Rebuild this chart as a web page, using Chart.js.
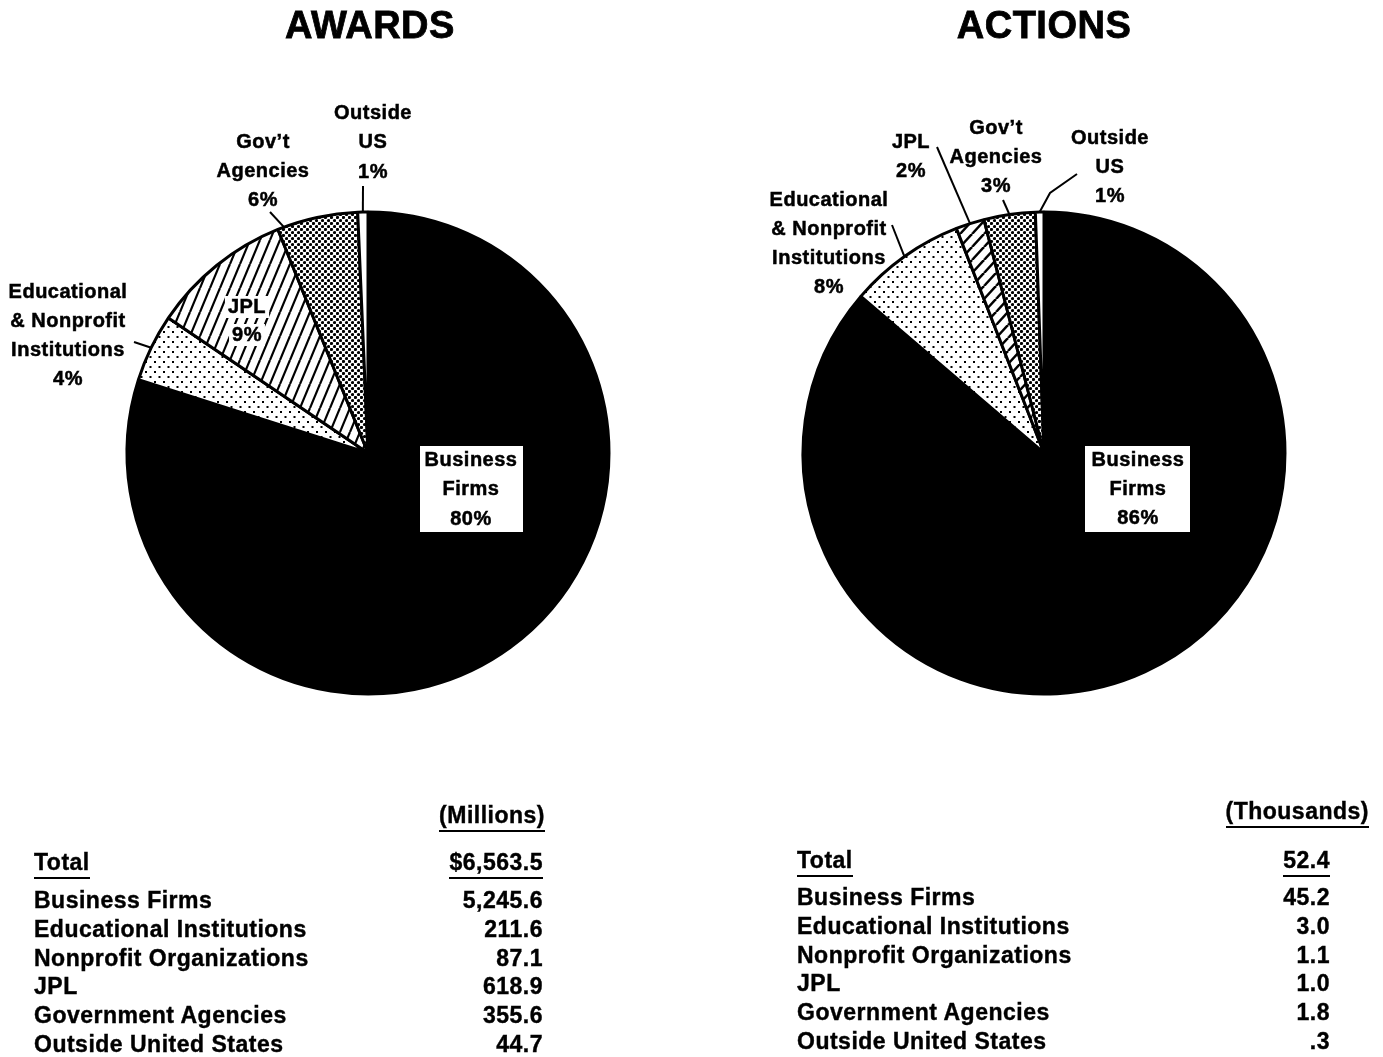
<!DOCTYPE html>
<html>
<head>
<meta charset="utf-8">
<script src="https://cdn.jsdelivr.net/npm/chart.js@4.4.1/dist/chart.umd.min.js"></script>
<style>
  html, body { margin: 0; padding: 0; background: #fff; }
  #page {
    position: relative; width: 1383px; height: 1057px; overflow: hidden;
    font-family: "Liberation Sans", Arial, Helvetica, sans-serif; font-weight: bold; color: #000;
  }
  canvas { position: absolute; left: 0; top: 0; }
  .title { position: absolute; top: 4px; font-size: 38px; line-height: 42px; transform: translateX(-50%); white-space: nowrap; letter-spacing: 0.5px; -webkit-text-stroke: 0.8px #000; }
  .cell { position: absolute; font-size: 23px; line-height: 26px; white-space: nowrap; letter-spacing: 0.5px; -webkit-text-stroke: 0.4px #000; }
  .cell span { display: inline-block; }
  .ul { border-bottom: 2.5px solid #000; padding-bottom: 2px; }
</style>
</head>
<body>
<div id="page">
  <canvas id="awardsPie" width="1383" height="1057"></canvas>
  <canvas id="actionsPie" width="1383" height="1057"></canvas>
  <div class="title" style="left:370px">AWARDS</div>
  <div class="title" style="left:1044px">ACTIONS</div>
</div>
<script>
/* ---------- data ---------- */
const categories = ["Business Firms", "Educational Institutions", "Nonprofit Organizations",
                    "JPL", "Government Agencies", "Outside United States"];
const awardsMillions = [5245.6, 211.6, 87.1, 618.9, 355.6, 44.7];
const actionsThousands = [45.2, 3.0, 1.1, 1.0, 1.8, 0.3];

// pie slices (educational + nonprofit share one slice)
const sliceLines = [["Business", "Firms"], ["Educational", "& Nonprofit", "Institutions"],
                    ["JPL"], ["Gov\u2019t", "Agencies"], ["Outside", "US"]];
const awardsPct = [80, 4, 9, 6, 1];
const actionsPct = [86, 8, 2, 3, 1];

const toSlices = v => [v[0], v[1] + v[2], v[3], v[4], v[5]];
const sum = v => v.reduce((a, b) => a + b, 0);
const fmt = v => v.toLocaleString("en-US", { minimumFractionDigits: 1, maximumFractionDigits: 1 }).replace(/^0\./, ".");

/* ---------- fill patterns ---------- */
function tile(w, h, draw) {
    const c = document.createElement("canvas");
    c.width = w; c.height = h;
    const g = c.getContext("2d");
    g.fillStyle = "#fff";
    g.fillRect(0, 0, w, h);
    g.fillStyle = "#000";
    g.strokeStyle = "#000";
    draw(g);
    return document.createElement("canvas").getContext("2d").createPattern(c, "repeat");
}

function dot(g, x, y, r) {
    g.beginPath();
    g.arc(x, y, r, 0, Math.PI * 2);
    g.fill();
}

const stipple = tile(9, 10, g => { g.fillRect(1, 1, 2, 2); g.fillRect(5.5, 6, 2, 2); });
const denseDots = tile(6, 6, g => { dot(g, 1.5, 1.5, 1.6); dot(g, 4.5, 4.5, 1.6); });

function hatch(w, h, lw) {
    return tile(w, h, g => {
        g.lineWidth = lw;
        for (let k = -1; k <= 1; k++) {
            g.beginPath();
            g.moveTo(k * w, h);
            g.lineTo((k + 1) * w, 0);
            g.stroke();
        }
    });
}

/* ---------- labels + leader lines ---------- */
const pieNotes = {
    id: "pieNotes",
    afterDatasetsDraw(chart, args, opts) {
        const ctx = chart.ctx;
        const arcs = chart.getDatasetMeta(0).data;
        ctx.save();
        ctx.font = 'bold 20px "Liberation Sans", Arial, sans-serif';
        ctx.letterSpacing = "0.5px";
        ctx.textAlign = "center";
        ctx.textBaseline = "middle";
        ctx.strokeStyle = "#000";

        opts.notes.forEach(n => {
            const lines = sliceLines[n.slice].concat(opts.pct[n.slice] + "%");
            const step = n.step || 29.3;
            if (n.box) {
                ctx.fillStyle = "#fff";
                ctx.fillRect(n.box[0], n.box[1], n.box[2], n.box[3]);
            }
            if (n.clear) {
                ctx.fillStyle = "#fff";
                lines.forEach((t, i) => {
                    const w = ctx.measureText(t).width;
                    ctx.fillRect(n.x - w / 2 - 3, n.y + i * step - 11, w + 6, 22);
                });
            }
            ctx.fillStyle = "#000";
            ctx.lineWidth = 0.5;
            lines.forEach((t, i) => {
                ctx.fillText(t, n.x, n.y + i * step);
                ctx.strokeText(t, n.x, n.y + i * step);
            });

            if (n.leader) {
                const a = arcs[n.slice];
                const ang = a.startAngle + n.leader.frac * (a.endAngle - a.startAngle);
                ctx.lineWidth = 2;
                ctx.beginPath();
                n.leader.from.forEach((p, i) => i ? ctx.lineTo(p[0], p[1]) : ctx.moveTo(p[0], p[1]));
                ctx.lineTo(a.x + Math.cos(ang) * a.outerRadius, a.y + Math.sin(ang) * a.outerRadius);
                ctx.stroke();
            }
        });
        ctx.restore();
    }
};

function makePie(id, values, pct, jplHatch, padding, notes) {
    new Chart(document.getElementById(id), {
        type: "pie",
        data: {
            labels: sliceLines.map(l => l.join(" ")),
            datasets: [{
                data: toSlices(values),
                backgroundColor: ["#000", stipple, jplHatch, denseDots, "#fff"],
                borderColor: "#000",
                borderWidth: 3
            }]
        },
        options: {
            responsive: false,
            animation: false,
            events: [],
            layout: { padding },
            plugins: {
                legend: { display: false },
                tooltip: { enabled: false },
                pieNotes: { notes, pct }
            }
        },
        plugins: [pieNotes]
    });
}

makePie("awardsPie", awardsMillions, awardsPct, hatch(10, 24, 2.2),
    { left: 125.5, top: 210.5, right: 772.5, bottom: 361.5 },
    [
        { slice: 0, x: 471, y: 460, step: 29.5, box: [420, 446, 103, 86] },
        { slice: 1, x: 68, y: 292, leader: { from: [[134, 342]], frac: 0.5 } },
        { slice: 2, x: 247, y: 307, step: 28, clear: true },
        { slice: 3, x: 263, y: 142, leader: { from: [[270, 212]], frac: 0.08 } },
        { slice: 4, x: 373, y: 113, step: 29.5, leader: { from: [[363, 186]], frac: 0.5 } }
    ]);

makePie("actionsPie", actionsThousands, actionsPct, hatch(12, 13, 2.5),
    { left: 801.5, top: 210.5, right: 96.5, bottom: 361.5 },
    [
        { slice: 0, x: 1138, y: 460, step: 29, box: [1085, 446, 105, 86] },
        { slice: 1, x: 829, y: 200, leader: { from: [[892, 225]], frac: 0.5 } },
        { slice: 2, x: 911, y: 142, leader: { from: [[937, 147]], frac: 0.5 } },
        { slice: 3, x: 996, y: 128, leader: { from: [[1003, 200]], frac: 0.5 } },
        { slice: 4, x: 1110, y: 138, leader: { from: [[1077, 174], [1050, 193]], frac: 0.5 } }
    ]);

/* ---------- tables ---------- */
const page = document.getElementById("page");

function cell(text, y, pos, cls) {
    const d = document.createElement("div");
    d.className = "cell";
    d.style.top = (y - 13) + "px";
    if (pos.left !== undefined) d.style.left = pos.left + "px";
    else d.style.right = (1383 - pos.right) + "px";
    const s = document.createElement("span");
    if (cls) s.className = cls;
    s.textContent = text;
    d.appendChild(s);
    page.appendChild(d);
}

function buildTable(t) {
    cell(t.unit, t.headerY, { right: t.headerRight }, "ul");
    cell("Total", t.totalY, { left: t.labelX }, "ul");
    cell(t.totalText, t.totalY, { right: t.valueRight }, "ul");
    categories.forEach((c, i) => {
        const y = t.rowY + i * 28.8;
        cell(c, y, { left: t.labelX });
        cell(fmt(t.values[i]), y, { right: t.valueRight });
    });
}

buildTable({
    unit: "(Millions)", values: awardsMillions, totalText: "$" + fmt(sum(awardsMillions)),
    labelX: 34, valueRight: 543, headerRight: 545, headerY: 815, totalY: 862, rowY: 900
});
buildTable({
    unit: "(Thousands)", values: actionsThousands, totalText: fmt(sum(actionsThousands)),
    labelX: 797, valueRight: 1330, headerRight: 1369, headerY: 811, totalY: 860, rowY: 897
});
</script>
</body>
</html>
